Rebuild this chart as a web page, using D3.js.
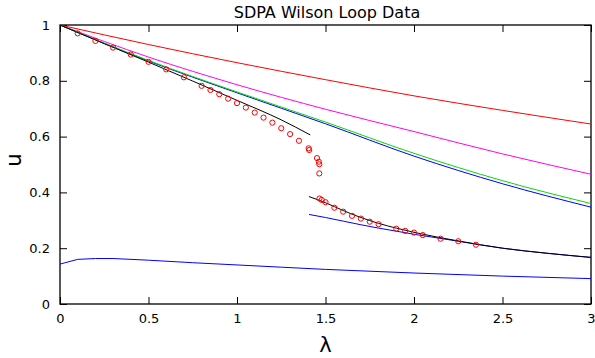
<!DOCTYPE html>
<html><head><meta charset="utf-8">
<script src="https://cdn.jsdelivr.net/npm/d3@7"></script>
<style>body{margin:0;background:#fff}svg{display:block}text{font-family:"DejaVu Sans",sans-serif;fill:#000}</style>
</head><body><svg id="c" width="595" height="358"></svg>
<script>
const title = "SDPA Wilson Loop Data";
const xTicks = [0, 0.5, 1, 1.5, 2, 2.5, 3];
const yTicks = [0, 0.2, 0.4, 0.6, 0.8, 1];

const redLam = [0, 0.5, 1, 1.5, 2, 2.5, 3];
const redU   = [1, 0.930, 0.865, 0.804, 0.746, 0.694, 0.645];
const magLam = [0, 0.5, 1, 1.5, 2, 2.5, 3];
const magU   = [1, 0.885, 0.786, 0.698, 0.618, 0.538, 0.465];
const grnLam = [0, 0.5, 1, 1.5, 2, 2.5, 3];
const grnU   = [1, 0.873, 0.760, 0.652, 0.540, 0.442, 0.360];
const bluLam = [0, 0.5, 1, 1.5, 2, 2.5, 3];
const bluU   = [1, 0.871, 0.757, 0.646, 0.530, 0.431, 0.347];
const blkLam = [0, 0.25, 0.5, 0.75, 1.0, 1.25, 1.414];
const blkU   = [1, 0.933, 0.867, 0.799, 0.730, 0.660, 0.606];
const blk2Lam = [1.407, 1.5, 1.6, 1.7, 1.8, 1.9, 2.0, 2.25, 2.5, 2.75, 3];
const blk2U   = [0.385, 0.363, 0.335, 0.310, 0.289, 0.272, 0.257, 0.226, 0.200, 0.182, 0.167];
const blu2Lam = [1.407, 1.5, 1.6, 1.7, 1.8, 1.9, 2.0, 2.1, 2.25, 2.5, 2.75, 3];
const blu2U   = [0.321, 0.310, 0.297, 0.284, 0.272, 0.261, 0.250, 0.240, 0.225, 0.200, 0.182, 0.167];
const blu3Lam = [0, 0.1, 0.2, 0.3, 0.5, 0.75, 1.0, 1.25, 1.5, 2.0, 2.5, 3];
const blu3U   = [0.143, 0.160, 0.163, 0.163, 0.157, 0.148, 0.140, 0.132, 0.124, 0.111, 0.100, 0.091];
const dotLam = [0.1,0.2,0.3,0.4,0.5,0.6,0.7,0.8,0.85,0.9,0.95,1.0,1.05,1.1,1.15,1.2,1.25,1.3,1.35,1.405,1.408,1.452,1.462,1.465,1.465,1.466,1.479,1.5,1.55,1.6,1.65,1.7,1.75,1.8,1.9,1.95,2.0,2.05,2.15,2.25,2.35];
const dotU   = [0.970,0.943,0.919,0.894,0.868,0.841,0.8125,0.782,0.767,0.752,0.736,0.720,0.704,0.686,0.668,0.650,0.630,0.609,0.585,0.558,0.552,0.523,0.510,0.501,0.468,0.378,0.373,0.365,0.345,0.331,0.316,0.306,0.295,0.286,0.270,0.262,0.256,0.247,0.234,0.225,0.2125];

const svg = d3.select("#c");
const L = 60, R = 591, T = 25, B = 304;
const x = d3.scaleLinear().domain([0, 3]).range([L, R]);
const y = d3.scaleLinear().domain([0, 1]).range([B, T]);

svg.append("defs").append("clipPath").attr("id","clip").append("rect")
  .attr("x", L).attr("y", T).attr("width", R-L).attr("height", B-T);

const tickLen = 7;
const fmt = d => String(d);
svg.append("g").attr("transform", `translate(0,${B})`)
  .call(d3.axisBottom(x).tickValues(xTicks).tickFormat(fmt).tickSizeInner(-tickLen).tickSizeOuter(0).tickPadding(10));
svg.append("g").attr("transform", `translate(0,${T})`)
  .call(d3.axisTop(x).tickValues(xTicks).tickFormat("").tickSizeInner(-tickLen).tickSizeOuter(0));
svg.append("g").attr("transform", `translate(${L},0)`)
  .call(d3.axisLeft(y).tickValues(yTicks).tickFormat(fmt).tickSizeInner(-tickLen).tickSizeOuter(0).tickPadding(10));
svg.append("g").attr("transform", `translate(${R},0)`)
  .call(d3.axisRight(y).tickValues(yTicks).tickFormat("").tickSizeInner(-tickLen).tickSizeOuter(0));
svg.selectAll(".domain").remove();
svg.selectAll(".tick line").attr("stroke", "#000").attr("stroke-width", 1);
svg.selectAll(".tick text").attr("font-family", "DejaVu Sans, sans-serif").attr("font-size", 13).attr("fill", "#000");
svg.append("rect").attr("x", L).attr("y", T).attr("width", R-L).attr("height", B-T)
  .attr("fill", "none").attr("stroke", "#000").attr("stroke-width", 1.3);

const lineG = svg.append("g").attr("clip-path", "url(#clip)");
const smooth = d3.line().x(d => x(d[0])).y(d => y(d[1])).curve(d3.curveMonotoneX);
const straight = d3.line().x(d => x(d[0])).y(d => y(d[1]));
function series(lam, u, color, gen) {
  lineG.append("path").datum(d3.zip(lam, u)).attr("d", gen || smooth)
    .attr("fill", "none").attr("stroke", color).attr("stroke-width", 1);
}
series(redLam, redU, "#ff0000");
series(magLam, magU, "#ff00ff");
series(bluLam, bluU, "#0000ff");
series(grnLam, grnU, "#00dd00");
series(blu2Lam, blu2U, "#0000ff");
series(blu3Lam, blu3U, "#0000ff", straight);
series(blkLam, blkU, "#000000");
series(blk2Lam, blk2U, "#000000");

lineG.selectAll("circle.d").data(d3.zip(dotLam, dotU)).join("circle")
  .attr("cx", d => x(d[0])).attr("cy", d => y(d[1])).attr("r", 2.6)
  .attr("fill", "none").attr("stroke", "#ff0000").attr("stroke-width", 1);

svg.append("text").attr("x", 327).attr("y", 18).attr("text-anchor", "middle")
  .attr("font-size", 16).text(title);
svg.append("text").attr("x", (L+R)/2).attr("y", 352).attr("text-anchor", "middle")
  .attr("font-size", 21).text("λ");
svg.append("text").attr("transform", "translate(21,160) rotate(-90)").attr("text-anchor", "middle")
  .attr("font-size", 21).text("u");
</script></body></html>
